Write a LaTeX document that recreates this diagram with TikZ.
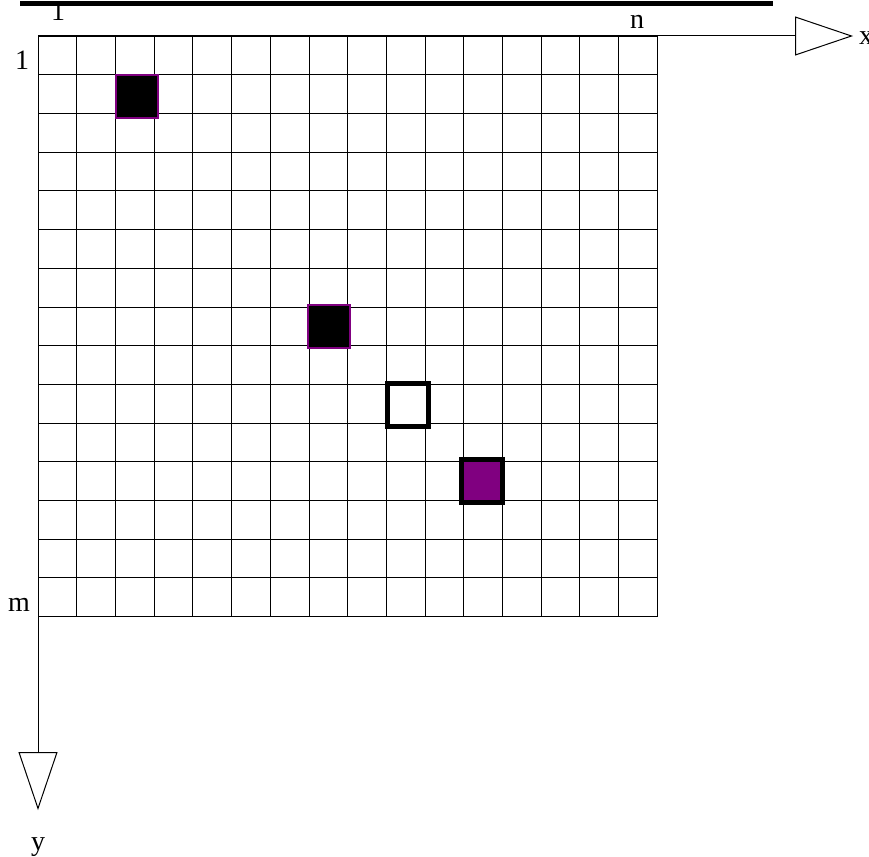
\documentclass[tikz,border=0pt]{standalone}
\usepackage{fontspec}
\setmainfont{Liberation Serif}
\usetikzlibrary{arrows.meta}
\definecolor{cellpurple}{RGB}{128,0,128}
\tikzset{
  lbl/.style={font=\fontsize{28}{32}\selectfont, inner sep=0pt, anchor=base},
  markcell/.style={rectangle, inner sep=0pt, minimum width=42pt, minimum height=43pt},
  axis/.style={line width=1pt, -{Triangle[open, length=58pt, width=39pt]}}
}
\begin{document}
\begin{tikzpicture}[x=1pt, y=-1pt]
    \useasboundingbox (0,0) rectangle (869,856);

    % Grid
    \foreach \i in {0,...,16} \draw[line width=0.8pt] (38+\i*38.7,36) -- (38+\i*38.7,617);
    \foreach \j in {0,...,15} \draw[line width=0.8pt] (38,36+\j*38.7) -- (657,36+\j*38.7);

    % Axes
    \coordinate (origin) at (38,36);
    \coordinate (xend) at (853,36);
    \coordinate (yend) at (38,810);
    \draw[axis] (origin) -- (xend);
    \draw[axis] (origin) -- (yend);

    % Marked cells
    \node[markcell, fill=black, draw=cellpurple, line width=1.5pt] (cella) at (137,96.5) {};
    \node[markcell, fill=black, draw=cellpurple, line width=1.5pt] (cellb) at (329,326.5) {};
    \node[markcell, fill=white, draw=black, line width=5pt, minimum width=41pt, minimum height=43.5pt] (cellc) at (408,405) {};
    \node[markcell, fill=cellpurple, draw=black, line width=5pt, minimum width=41pt, minimum height=42.5pt] (celld) at (482,481) {};

    % Labels
    \node[lbl] (toplbl) at (58,21) {1};
    \node[lbl] (leftlbl) at (22,70) {1};
    \node[lbl] (nlbl) at (637,28.3) {n};
    \node[lbl] (mlbl) at (19,611.7) {m};
    \node[lbl, anchor=base west] (xlbl) at (859,45) {x};
    \node[lbl] (ylbl) at (38,850) {y};

    % Top bar
    \draw[line width=5pt] (20,3.5) -- (773,3.5);
\end{tikzpicture}
\end{document}
